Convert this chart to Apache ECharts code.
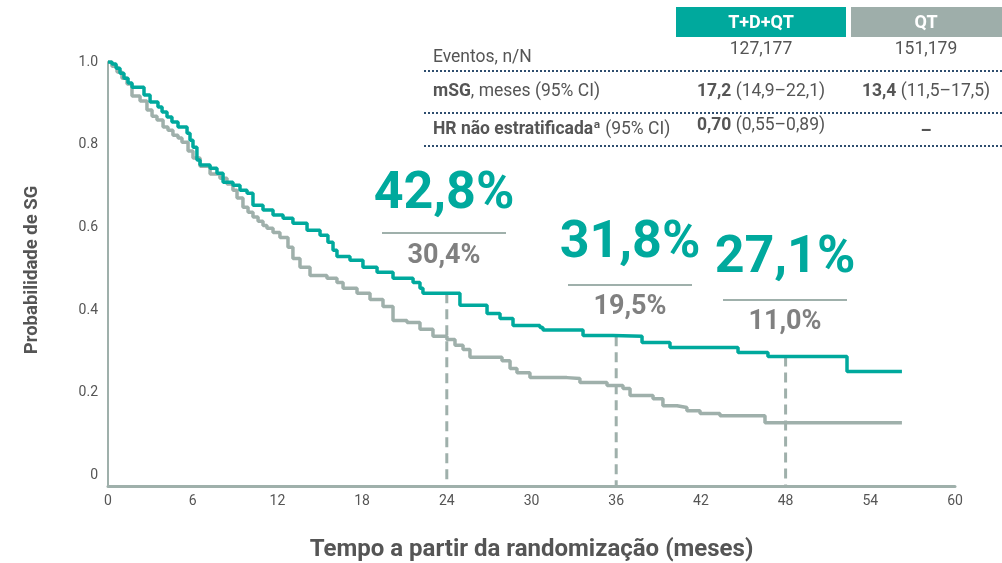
<!DOCTYPE html>
<html><head><meta charset="utf-8">
<script src="https://cdn.jsdelivr.net/npm/echarts@6/dist/echarts.min.js"></script>
<style>html,body{margin:0;padding:0;background:#fff}#c{width:1002px;height:563px}</style>
</head><body><div id="c"></div>
<script>
// ---- data ----
const xTicks = [0, 6, 12, 18, 24, 30, 36, 42, 48, 54, 60];
const yTicks = [0, 0.2, 0.4, 0.6, 0.8, 1.0];

const tealT = [0, 0.28, 0.57, 0.85, 1.13, 1.42, 1.70, 2.55, 2.98, 3.54, 3.83, 4.18, 4.53, 4.96, 5.60, 5.81, 6.02, 6.30, 6.52, 7.23, 7.72, 8.15, 8.85, 9.35, 9.85, 10.27, 10.98, 11.69, 12.40, 13.10, 14.10, 15.02, 15.58, 15.94, 16.22, 17.14, 18.06, 19.06, 20.19, 21.61, 22.10, 22.31, 24.93, 26.85, 27.77, 28.69, 30.60, 30.81, 33.65, 35.77, 37.83, 39.81, 44.63, 46.75, 52.35, 56.24];
const tealS = [1.000, 0.995, 0.985, 0.973, 0.961, 0.949, 0.939, 0.920, 0.903, 0.891, 0.879, 0.867, 0.855, 0.843, 0.828, 0.811, 0.794, 0.763, 0.751, 0.743, 0.731, 0.709, 0.702, 0.690, 0.683, 0.654, 0.642, 0.630, 0.622, 0.610, 0.593, 0.581, 0.564, 0.545, 0.530, 0.521, 0.504, 0.492, 0.477, 0.467, 0.453, 0.441, 0.412, 0.392, 0.380, 0.363, 0.358, 0.352, 0.339, 0.337, 0.322, 0.310, 0.298, 0.288, 0.252, 0.252];

const greyT = [0, 0.28, 0.64, 0.99, 1.35, 1.70, 2.27, 2.76, 3.12, 3.47, 3.90, 4.25, 4.60, 4.96, 5.24, 5.67, 6.02, 6.52, 7.23, 7.93, 8.43, 8.85, 9.14, 9.56, 9.92, 10.27, 10.63, 10.98, 11.26, 11.69, 12.18, 12.75, 13.10, 13.60, 14.31, 15.51, 16.22, 16.65, 17.64, 18.56, 19.48, 20.19, 21.18, 22.10, 23.02, 24.01, 24.58, 25.15, 25.64, 27.91, 28.48, 28.97, 29.89, 32.51, 33.43, 35.35, 36.48, 36.98, 38.61, 39.31, 40.31, 41.01, 41.94, 43.35, 46.54, 56.24];
const greyS = [1.000, 0.990, 0.976, 0.961, 0.947, 0.918, 0.906, 0.884, 0.869, 0.860, 0.843, 0.835, 0.823, 0.816, 0.806, 0.785, 0.768, 0.748, 0.729, 0.719, 0.705, 0.690, 0.671, 0.649, 0.637, 0.625, 0.615, 0.605, 0.598, 0.588, 0.576, 0.552, 0.525, 0.504, 0.484, 0.477, 0.467, 0.453, 0.441, 0.426, 0.409, 0.375, 0.370, 0.354, 0.337, 0.329, 0.315, 0.305, 0.286, 0.278, 0.259, 0.249, 0.237, 0.235, 0.225, 0.218, 0.211, 0.194, 0.186, 0.169, 0.165, 0.157, 0.150, 0.145, 0.128, 0.128];

const landmarkMonths = [24, 36, 48];
const tealLabels = ['42,8%', '31,8%', '27,1%'];
const greyLabels = ['30,4%', '19,5%', '11,0%'];

const tableHeaders = ['T+D+QT', 'QT'];
const rowLabels = ['Eventos, n/N', '{b|mSG}, meses (95% CI)', '{b|HR não estratificadaª} (95% CI)'];
const tealCol = ['127,177', '{b|17,2} (14,9–22,1)', '{b|0,70} (0,55–0,89)'];
const greyCol = ['151,179', '{b|13,4} (11,5–17,5)', '–'];

const xTitle = 'Tempo a partir da randomização (meses)';
const yTitle = 'Probabilidade de SG';

// ---- styles ----
const TEAL = '#00a99d';
const GREY = '#9fb0ab';
const TXT = '#555555';
const PCT_GREY = '#808080';
const FONT = 'Roboto, "Noto Sans", sans-serif';
const Y_MIN = -0.025;
const Y_STEP = 0.025;

function stepAt(T, S, t) {
  let v = S[0];
  for (let i = 0; i < T.length; i++) { if (T[i] <= t) v = S[i]; }
  return v;
}

const tealData = tealT.map((t, i) => [t, tealS[i]]);
const greyData = greyT.map((t, i) => [t, greyS[i]]);

const dashSeries = landmarkMonths.map(m => ({
  type: 'line', silent: true, symbol: 'none', z: 1,
  data: [[m, stepAt(tealT, tealS, m)], [m, Y_MIN]],
  lineStyle: { color: GREY, width: 3, type: [10, 6] }
}));

// annotation layout (pixels)
const annotPos = [
  { cx: 444, bigY: 195, lineY: 233, smallY: 256 },
  { cx: 630, bigY: 244, lineY: 285, smallY: 307 },
  { cx: 785, bigY: 259, lineY: 300, smallY: 322 }
];
const graphics = [];
annotPos.forEach((p, i) => {
  graphics.push({ type: 'text', x: p.cx, y: p.bigY, style: { text: tealLabels[i], fill: TEAL, font: 'bold 52px ' + FONT, align: 'center', verticalAlign: 'middle' } });
  graphics.push({ type: 'line', shape: { x1: p.cx - 62, y1: p.lineY, x2: p.cx + 62, y2: p.lineY }, style: { stroke: GREY, lineWidth: 2 } });
  graphics.push({ type: 'text', x: p.cx, y: p.smallY, style: { text: greyLabels[i], fill: PCT_GREY, font: 'bold 27px ' + FONT, align: 'center', verticalAlign: 'middle' } });
});

// y-axis title
graphics.push({ type: 'text', x: 32, y: 270, rotation: Math.PI / 2, style: { text: yTitle, fill: TXT, font: 'bold 18.5px ' + FONT, align: 'center', verticalAlign: 'middle' } });

// table
graphics.push({ type: 'rect', shape: { x: 676, y: 7, width: 170, height: 30 }, style: { fill: TEAL } });
graphics.push({ type: 'rect', shape: { x: 851, y: 7, width: 151, height: 30 }, style: { fill: '#9eaeaa' } });
graphics.push({ type: 'text', x: 761, y: 23, style: { text: tableHeaders[0], fill: '#fff', font: 'bold 18px ' + FONT, align: 'center', verticalAlign: 'middle' } });
graphics.push({ type: 'text', x: 926, y: 23, style: { text: tableHeaders[1], fill: '#fff', font: 'bold 18px ' + FONT, align: 'center', verticalAlign: 'middle' } });
const rowY = [58, 92, 130];
const valY = [50, 92, 126];
const dashY = [71, 113, 146];
const richB = { b: { fontWeight: 'bold', fontSize: 17.5, fontFamily: FONT, fill: TXT } };
rowLabels.forEach((t, i) => {
  graphics.push({ type: 'text', x: 433, y: rowY[i], style: { text: t, fill: TXT, font: '17.5px ' + FONT, align: 'left', verticalAlign: 'middle', rich: richB } });
  graphics.push({ type: 'text', x: 761, y: valY[i], style: { text: tealCol[i], fill: TXT, font: '17.5px ' + FONT, align: 'center', verticalAlign: 'middle', rich: richB } });
  graphics.push({ type: 'text', x: 926, y: i === 2 ? 132 : valY[i], style: { text: greyCol[i], fill: TXT, font: (i === 2 ? 'bold ' : '') + '17.5px ' + FONT, align: 'center', verticalAlign: 'middle', rich: richB } });
  graphics.push({ type: 'line', shape: { x1: 424, y1: dashY[i], x2: 1002, y2: dashY[i] }, style: { stroke: '#2e4d6e', lineWidth: 2, lineDash: [2, 2] } });
});

const chart = echarts.init(document.getElementById('c'), null, { renderer: 'canvas' });
chart.setOption({
  animation: false,
  backgroundColor: '#fff',
  textStyle: { fontFamily: FONT },
  grid: { left: 108, right: 47, top: 62, bottom: 77, containLabel: false, outerBoundsMode: 'none' },
  xAxis: {
    type: 'value', min: xTicks[0], max: xTicks[xTicks.length - 1], interval: 6,
    name: xTitle, nameLocation: 'middle', nameGap: 52,
    nameTextStyle: { fontSize: 24, fontWeight: 'bold', color: TXT, fontFamily: FONT },
    axisLine: { onZero: false, lineStyle: { color: GREY, width: 3 } },
    axisTick: { show: false },
    axisLabel: { color: TXT, fontSize: 14, margin: 8, fontFamily: FONT },
    splitLine: { show: false }
  },
  yAxis: {
    type: 'value', min: Y_MIN, max: 1, interval: Y_STEP,
    axisLine: { show: true, onZero: false, lineStyle: { color: GREY, width: 2 } },
    axisTick: { show: false },
    axisLabel: { color: TXT, fontSize: 14, margin: 10, fontFamily: FONT, customValues: yTicks,
      formatter: v => (Math.abs(v) < 1e-9 ? '0' : v.toFixed(1)) },
    splitLine: { show: false }
  },
  series: dashSeries.concat([
    { type: 'line', name: 'QT', step: 'end', symbol: 'none', z: 2, data: greyData, lineStyle: { color: GREY, width: 3.5 } },
    { type: 'line', name: 'T+D+QT', step: 'end', symbol: 'none', z: 3, data: tealData, lineStyle: { color: TEAL, width: 3.5 } }
  ]),
  graphic: graphics
});
</script>
</body></html>
